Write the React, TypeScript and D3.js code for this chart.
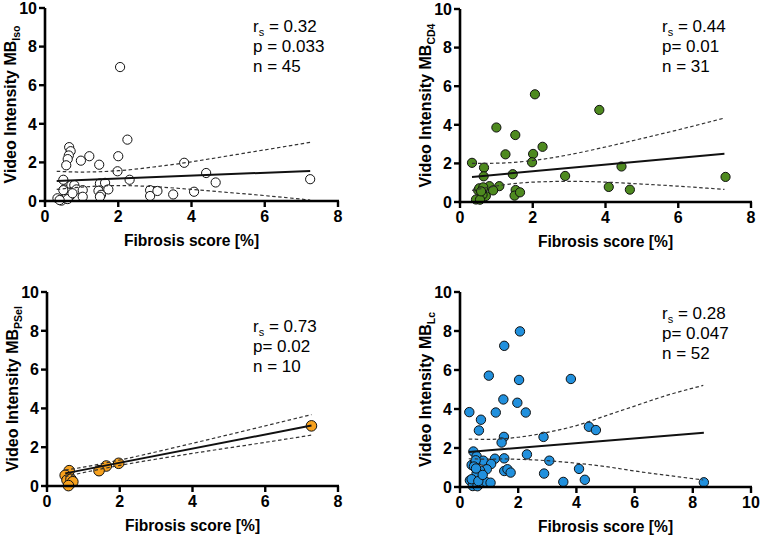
import React from "react";
import * as d3 from "d3";

// ---------- DATA ----------
const isoX = [2.05,2.25,0.66,0.70,0.65,0.62,0.58,0.98,1.21,1.48,2.00,1.98,2.31,3.80,4.40,4.66,7.24,0.50,0.52,0.72,0.80,0.57,0.64,0.86,1.03,1.03,1.50,1.64,1.73,1.46,1.53,1.50,2.87,2.87,3.07,3.50,4.07,0.34,0.45,0.57,0.68,0.50,0.62,0.40,0.75];
const isoY = [6.94,3.18,2.79,2.58,2.36,2.17,1.85,2.09,2.32,1.88,2.32,1.54,1.10,1.98,1.45,0.96,1.13,1.10,0.60,0.82,0.82,0.39,0.43,0.60,0.56,0.22,0.91,0.94,0.60,0.53,0.32,0.22,0.56,0.26,0.52,0.34,0.48,0.14,0.02,0.14,0.26,0.56,0.10,0.05,0.40];

const cd4X = [2.06,3.83,1.00,1.52,2.27,1.25,2.01,1.98,0.33,0.66,0.65,1.45,2.89,4.44,7.30,4.09,4.67,1.08,0.81,0.91,0.50,0.53,0.64,0.71,0.62,0.44,0.55,1.53,1.50,1.65,0.58];
const cd4Y = [5.58,4.77,3.86,3.47,2.86,2.47,2.49,2.06,2.03,1.78,1.33,1.44,1.35,1.84,1.30,0.78,0.64,0.82,0.82,0.60,0.60,0.71,0.76,0.31,0.38,0.13,0.12,0.62,0.33,0.50,0.55];

const pselX = [7.27,1.97,1.63,1.43,0.61,0.50,0.55,0.66,0.71,0.59];
const pselY = [3.10,1.17,1.03,0.79,0.79,0.55,0.30,0.35,0.22,0.02];

const lcX = [2.06,1.52,0.99,3.81,2.03,1.49,1.97,1.23,2.26,0.32,0.72,0.65,1.51,1.43,2.87,4.43,4.67,2.30,3.07,1.52,1.20,2.89,4.09,3.55,4.29,8.38,1.52,1.63,1.74,0.46,0.57,0.40,0.51,0.80,1.07,0.92,0.69,0.34,0.46,0.44,0.60,0.74,0.69,0.89,1.05,0.57,0.54,0.40,0.63,0.48,0.78,0.55];
const lcY = [7.98,7.24,5.71,5.54,5.49,4.49,4.32,3.82,3.82,3.84,3.45,2.90,2.57,2.28,2.57,3.09,2.92,1.67,1.35,1.47,1.45,0.69,0.93,0.26,0.37,0.24,0.82,0.91,0.74,1.82,1.58,1.13,1.22,1.35,1.18,0.91,0.84,0.34,0.26,0.05,0.04,0.20,0.51,0.26,0.22,0.69,1.37,0.40,0.30,1.05,0.62,0.95];

// regression lines and 95% bands
const isoFitX = [0.32, 7.24], isoFitY = [1.03, 1.56];
const isoBandX = [0.32,1,2,3,4,5,6,7.24];
const isoUpper = [1.54,1.50,1.57,1.77,2.03,2.34,2.65,3.04];
const isoLower = [0.60,0.72,0.80,0.74,0.60,0.44,0.28,0.05];

const cd4FitX = [0.33, 7.27], cd4FitY = [1.30, 2.50];
const cd4BandX = [0.33,1,2,3,4,5,6,7.27];
const cd4Upper = [2.00,2.01,2.15,2.45,2.85,3.29,3.74,4.35];
const cd4Lower = [0.60,0.83,1.03,1.07,1.03,0.93,0.82,0.65];

const pselFitX = [0.5, 7.27], pselFitY = [0.65, 3.12];
const pselBandX = [0.5,1,2,4,6,7.27];
const pselUpper = [0.82,0.97,1.34,2.20,3.10,3.68];
const pselLower = [0.48,0.69,1.06,1.68,2.25,2.62];

const lcFitX = [0.3, 8.38], lcFitY = [1.80, 2.78];
const lcBandX = [0.3,1,1.5,2,3,4,5,6,7,8.36];
const lcUpper = [2.46,2.44,2.48,2.55,2.80,3.15,3.65,4.15,4.65,5.21];
const lcLower = [1.45,1.43,1.44,1.42,1.35,1.22,1.05,0.82,0.62,0.36];

const yTicks = [0, 2, 4, 6, 8, 10];
const xTicks8 = [0, 2, 4, 6, 8];
const xTicks10 = [0, 2, 4, 6, 8, 10];

const xTitle = "Fibrosis score [%]";
const yTitleMain = "Video Intensity MB";
const stats = [
  { r: "0.32", p: "p = 0.033", n: "n = 45" },
  { r: "0.44", p: "p= 0.01", n: "n = 31" },
  { r: "0.73", p: "p= 0.02", n: "n = 10" },
  { r: "0.28", p: "p= 0.047", n: "n = 52" },
];

const FONT = "'Liberation Sans', Arial, Helvetica, sans-serif";

type PanelProps = {
  x0: number; x1: number; y0: number; y1: number;
  xMax: number; xTicks: number[];
  xs: number[]; ys: number[];
  fitX: number[]; fitY: number[];
  bandX: number[]; upper: number[]; lower: number[];
  fill: string; r: number;
  sub: string;
  stat: { r: string; p: string; n: string };
  tx: number; ty: number;
};

function Panel(p: PanelProps) {
  const xs = d3.scaleLinear().domain([0, p.xMax]).range([p.x0, p.x1]);
  const ys = d3.scaleLinear().domain([0, 10]).range([p.y0, p.y1]);
  const line = d3.line<[number, number]>().x(d => xs(d[0])).y(d => ys(d[1])).curve(d3.curveMonotoneX);
  const up = line(p.bandX.map((x, i) => [x, p.upper[i]] as [number, number])) || "";
  const lo = line(p.bandX.map((x, i) => [x, p.lower[i]] as [number, number])) || "";
  const fit = line(p.fitX.map((x, i) => [x, p.fitY[i]] as [number, number])) || "";
  const midY = (p.y0 + p.y1) / 2;
  const midX = (p.x0 + p.x1) / 2;
  return (
    <g fontFamily={FONT}>
      {p.xs.map((x, i) => (
        <circle key={i} cx={xs(x)} cy={ys(p.ys[i])} r={p.r} fill={p.fill} stroke="#111" strokeWidth={1} />
      ))}
      <path d={up} fill="none" stroke="#333" strokeWidth={1.2} strokeDasharray="3.5,2.5" />
      <path d={lo} fill="none" stroke="#333" strokeWidth={1.2} strokeDasharray="3.5,2.5" />
      <path d={fit} fill="none" stroke="#111" strokeWidth={2} />
      <line x1={p.x0} x2={p.x0} y1={p.y0 + 1.25} y2={p.y1} stroke="#000" strokeWidth={2.6} />
      <line x1={p.x0 - 1.25} x2={p.x1 + 1} y1={p.y0} y2={p.y0} stroke="#000" strokeWidth={2.6} />
      {yTicks.map(t => (
        <g key={"y" + t}>
          <line x1={p.x0 - 6} x2={p.x0} y1={ys(t)} y2={ys(t)} stroke="#000" strokeWidth={2.4} />
          <text x={p.x0 - 8} y={ys(t)} dy="0.36em" textAnchor="end" fontSize={16} fontWeight="bold">{t}</text>
        </g>
      ))}
      {p.xTicks.map(t => (
        <g key={"x" + t}>
          <line x1={xs(t)} x2={xs(t)} y1={p.y0} y2={p.y0 + 6} stroke="#000" strokeWidth={2.4} />
          <text x={xs(t)} y={p.y0 + 21} textAnchor="middle" fontSize={16} fontWeight="bold">{t}</text>
        </g>
      ))}
      <text x={midX} y={p.y0 + 45} textAnchor="middle" fontSize={15.6} fontWeight="bold">{xTitle}</text>
      <text transform={`translate(${p.x0 - 29},${midY}) rotate(-90)`} textAnchor="middle" fontSize={16} fontWeight="bold">
        {yTitleMain}
        <tspan fontSize={10.5} dy={4}>{p.sub}</tspan>
      </text>
      <text x={p.tx} y={p.ty} fontSize={17}>
        r<tspan fontSize={11} dy={4}>s</tspan><tspan dy={-4}> = {p.stat.r}</tspan>
      </text>
      <text x={p.tx} y={p.ty + 20} fontSize={17}>{p.stat.p}</text>
      <text x={p.tx} y={p.ty + 40} fontSize={17}>{p.stat.n}</text>
    </g>
  );
}

export default function App() {
  return (
    <svg width={761} height={535} style={{ position: "absolute", left: 0, top: 0, background: "#fff" }}>
      <rect width={761} height={535} fill="#fff" />
      <Panel x0={45} x1={338} y0={201} y1={8} xMax={8} xTicks={xTicks8}
        xs={isoX} ys={isoY} fitX={isoFitX} fitY={isoFitY} bandX={isoBandX} upper={isoUpper} lower={isoLower}
        fill="#fff" r={4.6} sub="Iso" stat={stats[0]} tx={253} ty={32} />
      <Panel x0={460} x1={751} y0={202} y1={9} xMax={8} xTicks={xTicks8}
        xs={cd4X} ys={cd4Y} fitX={cd4FitX} fitY={cd4FitY} bandX={cd4BandX} upper={cd4Upper} lower={cd4Lower}
        fill="#4e8a1f" r={4.6} sub="CD4" stat={stats[1]} tx={662} ty={32} />
      <Panel x0={47} x1={338} y0={486} y1={292} xMax={8} xTicks={xTicks8}
        xs={pselX} ys={pselY} fitX={pselFitX} fitY={pselFitY} bandX={pselBandX} upper={pselUpper} lower={pselLower}
        fill="#f7a11d" r={5.3} sub="PSel" stat={stats[2]} tx={253} ty={332} />
      <Panel x0={460} x1={751} y0={487} y1={292} xMax={10} xTicks={xTicks10}
        xs={lcX} ys={lcY} fitX={lcFitX} fitY={lcFitY} bandX={lcBandX} upper={lcUpper} lower={lcLower}
        fill="#2190dd" r={4.7} sub="Lc" stat={stats[3]} tx={662} ty={319} />
    </svg>
  );
}
